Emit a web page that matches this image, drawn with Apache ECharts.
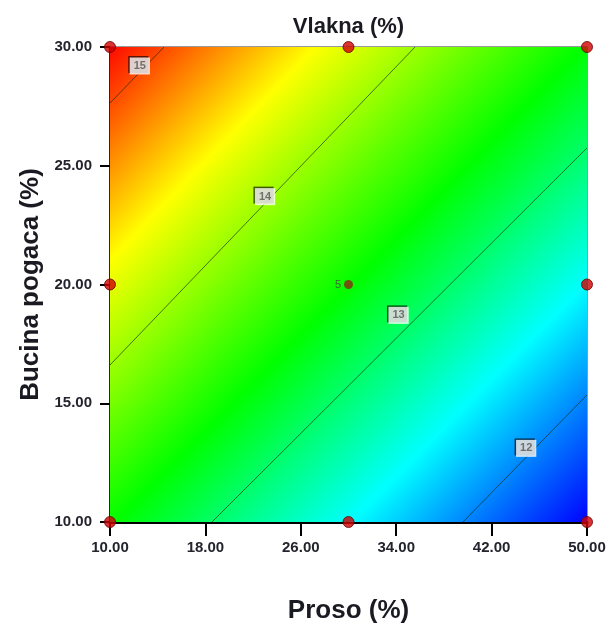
<!DOCTYPE html>
<html>
<head>
<meta charset="utf-8">
<script src="https://cdn.jsdelivr.net/npm/echarts@6/dist/echarts.min.js"></script>
<style>html,body{margin:0;padding:0;background:#fff}#chart{width:611px;height:637px}</style>
</head>
<body>
<div id="chart"></div>
<script>
// ---- data ----
const proso = [10, 18, 26, 34, 42, 50];          // x grid / ticks
const bucina = [10, 15, 20, 25, 30];             // y grid / ticks
// Vlakna (%) surface values read at the grid nodes (rows follow bucina)
const vlaknaRow10 = [13.40, 13.03, 12.65, 12.27, 11.89, 11.51];
const vlaknaRow15 = [13.86, 13.49, 13.12, 12.74, 12.35, 11.97];
const vlaknaRow20 = [14.31, 13.93, 13.57, 13.21, 12.83, 12.44];
const vlaknaRow25 = [14.76, 14.38, 14.00, 13.65, 13.29, 12.93];
const vlaknaRow30 = [15.22, 14.84, 14.46, 14.08, 13.72, 13.37];
const vlaknaGrid = [vlaknaRow10, vlaknaRow15, vlaknaRow20, vlaknaRow25, vlaknaRow30];
// contour lines (level, endpoints)
const contour15 = [[10, 27.64], [14.53, 30]];
const contour14 = [[10, 16.61], [35.58, 30]];
const contour13 = [[18.55, 10], [50, 25.75]];
const contour12 = [[39.60, 10], [50, 15.35]];
const contourLevels = [15, 14, 13, 12];
const contourLabels = [[12.5, 29.2, 15], [23.0, 23.7, 14], [34.2, 18.7, 13], [44.9, 13.1, 12]];
// design points
const designPoints = [[10, 10], [30, 10], [50, 10], [10, 20], [50, 20], [10, 30], [30, 30], [50, 30]];
const centerPoint = [[30, 20, 5]];

// ---- colour scale ----
const stopVals = [11.5, 12.45, 13.38, 14.4, 15.25];
const stopCols = [[0,0,255],[0,255,255],[0,255,0],[255,255,0],[255,0,0]];
function colorOf(v) {
  if (v <= stopVals[0]) return 'rgb(' + stopCols[0].join(',') + ')';
  for (let k = 0; k < stopVals.length - 1; k++) {
    if (v <= stopVals[k+1]) {
      const t = (v - stopVals[k]) / (stopVals[k+1] - stopVals[k]);
      const c = stopCols[k].map((a, i) => Math.round(a + (stopCols[k+1][i] - a) * t));
      return 'rgb(' + c.join(',') + ')';
    }
  }
  return 'rgb(' + stopCols[stopCols.length-1].join(',') + ')';
}

const cells = [];
for (let j = 0; j < bucina.length - 1; j++) {
  for (let i = 0; i < proso.length - 1; i++) {
    cells.push([proso[i], bucina[j], proso[i+1], bucina[j+1],
      vlaknaGrid[j][i], vlaknaGrid[j][i+1], vlaknaGrid[j+1][i], vlaknaGrid[j+1][i+1]]);
  }
}

function renderCell(params, api) {
  const p00 = api.coord([api.value(0), api.value(1)]);
  const p11 = api.coord([api.value(2), api.value(3)]);
  const v00 = api.value(4), v10 = api.value(5), v01 = api.value(6), v11 = api.value(7);
  const w = p11[0] - p00[0], h = p11[1] - p00[1];
  const gx = ((v10 - v00) + (v11 - v01)) / 2 / w;
  const gy = ((v01 - v00) + (v11 - v10)) / 2 / h;
  const cx = (p00[0] + p11[0]) / 2, cy = (p00[1] + p11[1]) / 2;
  const vc = (v00 + v10 + v01 + v11) / 4;
  const gl = Math.sqrt(gx * gx + gy * gy);
  const dx = gx / gl, dy = gy / gl;
  const corners = [[p00[0], p00[1]], [p11[0], p00[1]], [p00[0], p11[1]], [p11[0], p11[1]]];
  let tmin = Infinity, tmax = -Infinity;
  corners.forEach(c => {
    const t = (c[0] - cx) * dx + (c[1] - cy) * dy;
    tmin = Math.min(tmin, t); tmax = Math.max(tmax, t);
  });
  tmin -= 1; tmax += 1;
  const vS = vc + gl * tmin, vE = vc + gl * tmax;
  const stops = [{offset: 0, color: colorOf(vS)}];
  stopVals.forEach(sv => {
    if (sv > vS && sv < vE) stops.push({offset: (sv - vS) / (vE - vS), color: colorOf(sv)});
  });
  stops.push({offset: 1, color: colorOf(vE)});
  const grad = new echarts.graphic.LinearGradient(
    cx + dx * tmin, cy + dy * tmin, cx + dx * tmax, cy + dy * tmax, stops, true);
  const x0 = Math.min(p00[0], p11[0]) - 0.6, y0 = Math.min(p00[1], p11[1]) - 0.6;
  return {
    type: 'rect',
    shape: {x: x0, y: y0, width: Math.abs(w) + 1.2, height: Math.abs(h) + 1.2},
    style: {fill: grad}
  };
}

const chart = echarts.init(document.getElementById('chart'));
const axisFont = 'Liberation Sans, Arial, sans-serif';
const contourSeries = [contour15, contour14, contour13, contour12].map((d, k) => ({
  type: 'line', name: 'c' + contourLevels[k], data: d, symbol: 'none', silent: true, z: 3,
  lineStyle: {color: 'rgba(20,40,20,0.65)', width: 1}
}));

chart.setOption({
  animation: false,
  grid: {left: 110, right: 24, top: 47, bottom: 115, show: true, borderColor: '#333', borderWidth: 1},
  graphic: [{
    type: 'text', x: 348.5, y: 27,
    style: {text: 'Vlakna (%)', font: 'bold 22px Liberation Sans, Arial, sans-serif', fill: '#1a1a22',
      textAlign: 'center', textVerticalAlign: 'middle'}
  }],
  xAxis: {
    type: 'value', min: 10, max: 50, interval: 8,
    name: 'Proso (%)', nameLocation: 'middle', nameGap: 76,
    nameTextStyle: {fontSize: 26, fontWeight: 'bold', color: '#1a1a22', fontFamily: axisFont},
    axisLine: {show: true, onZero: false, lineStyle: {color: '#000', width: 3}},
    axisTick: {show: true, length: 14, lineStyle: {color: '#000', width: 2}},
    axisLabel: {formatter: v => v.toFixed(2), fontSize: 15, fontWeight: 'bold', color: '#24242e',
      margin: 18, fontFamily: axisFont},
    splitLine: {show: false}
  },
  yAxis: {
    type: 'value', min: 10, max: 30, interval: 5,
    name: 'Bucina pogaca (%)', nameLocation: 'middle', nameGap: 66,
    nameTextStyle: {fontSize: 26, fontWeight: 'bold', color: '#1a1a22', fontFamily: axisFont},
    axisLine: {show: true, onZero: false, lineStyle: {color: '#000', width: 1.5}},
    axisTick: {show: true, length: 10, lineStyle: {color: '#000', width: 2}},
    axisLabel: {formatter: v => v.toFixed(2), fontSize: 15, fontWeight: 'bold', color: '#24242e',
      margin: 18, fontFamily: axisFont},
    splitLine: {show: false}
  },
  series: [
    {type: 'custom', data: cells, renderItem: renderCell, clip: true, silent: true, z: 1,
      encode: {x: [0, 2], y: [1, 3]}},
    ...contourSeries,
    {type: 'scatter', data: contourLabels, symbolSize: 1, z: 5, silent: true,
      itemStyle: {color: 'transparent'},
      label: {show: true, position: 'inside', formatter: p => String(p.value[2]), fontSize: 11,
        fontWeight: 'bold', color: '#555', backgroundColor: '#fff', padding: [3, 4], fontFamily: axisFont,
        borderColor: '#222', borderWidth: 0,
        shadowColor: 'rgba(0,0,0,0.8)', shadowBlur: 0, shadowOffsetX: -1.5, shadowOffsetY: -1.5}},
    {type: 'scatter', data: designPoints, symbolSize: 11, z: 6, silent: true,
      itemStyle: {color: '#d00000', borderColor: '#600', borderWidth: 1}},
    {type: 'scatter', data: centerPoint, symbolSize: 9, z: 6, silent: true,
      itemStyle: {color: '#8a2a10'},
      label: {show: true, position: 'left', distance: 3, formatter: p => String(p.value[2]),
        fontSize: 11, color: '#444', fontFamily: axisFont}}
  ]
});
</script>
</body>
</html>
